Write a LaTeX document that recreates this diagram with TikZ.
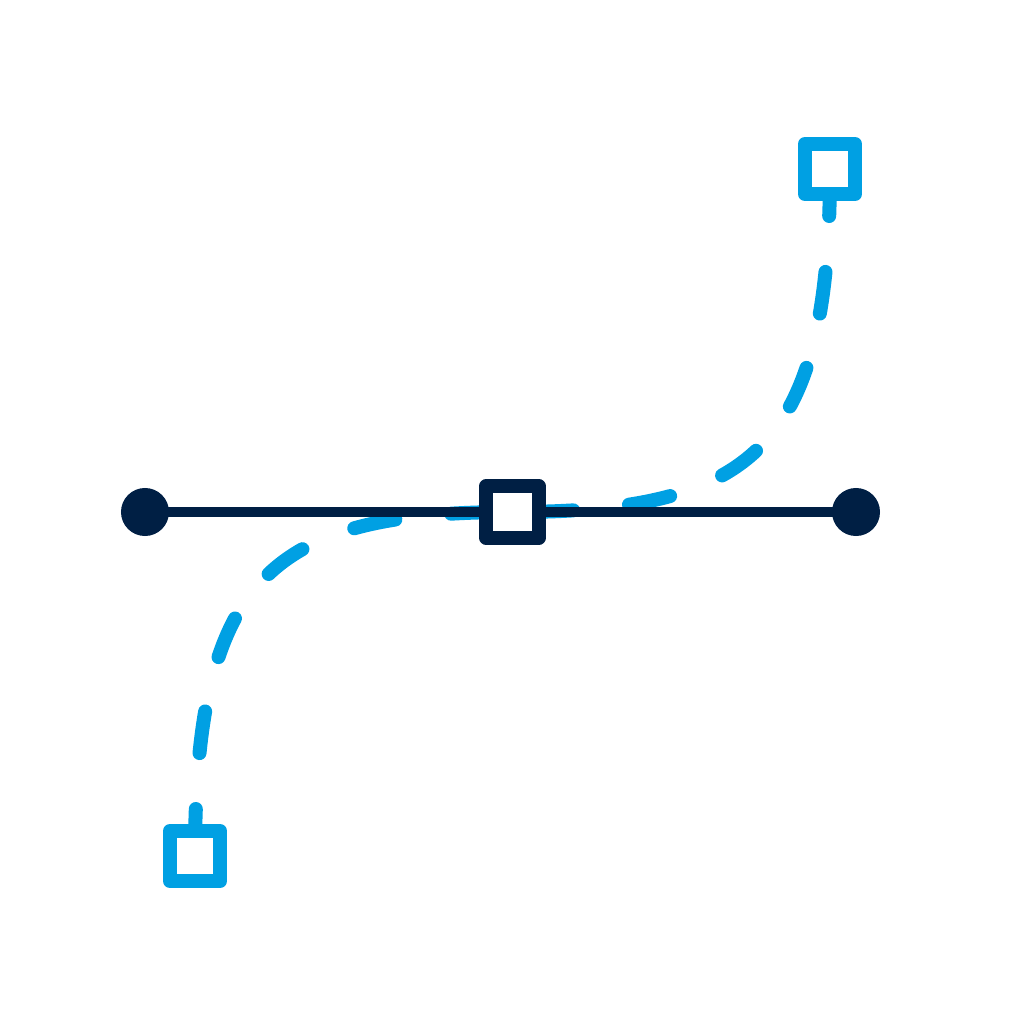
\documentclass[tikz,border=0pt]{standalone}
\definecolor{navy}{RGB}{0,31,68}
\definecolor{sky}{RGB}{0,160,227}
\begin{document}
\begin{tikzpicture}[x=0.01cm,y=-0.01cm,
  curvepath/.style={draw=sky,line width=1.4mm,line cap=round,dash pattern=on 4.2mm off 5.6mm,dash phase=9.3mm},
  anchorbox/.style={draw=sky,fill=white,line width=1.4mm,line join=round,rectangle,inner sep=0pt,minimum size=5mm},
  midbox/.style={draw=navy,fill=white,line width=1.4mm,line join=round,rectangle,inner sep=0pt,minimum size=5.2mm},
  handledot/.style={circle,fill=navy,inner sep=0pt,minimum size=4.8mm},
  handleline/.style={draw=navy,line width=0.95mm}]
\useasboundingbox (0,0) rectangle (1024,1024);
\coordinate (ptop) at (830,169);
\coordinate (pbot) at (195,856);
\coordinate (pmid) at (512.5,512);
% dashed curve segments
\draw[curvepath] (ptop) .. controls (830,449) and (753,512) .. (pmid);
\draw[curvepath] (pbot) .. controls (195,576) and (272,512) .. (pmid);
% handle
\node[handledot] (hl) at (145,512) {};
\node[handledot] (hr) at (856,512) {};
\draw[handleline] (hl.center) -- (hr.center);
% anchors
\node[midbox] (mid) at (pmid) {};
\node[anchorbox] (top) at (ptop) {};
\node[anchorbox] (bot) at (pbot) {};
\end{tikzpicture}
\end{document}
